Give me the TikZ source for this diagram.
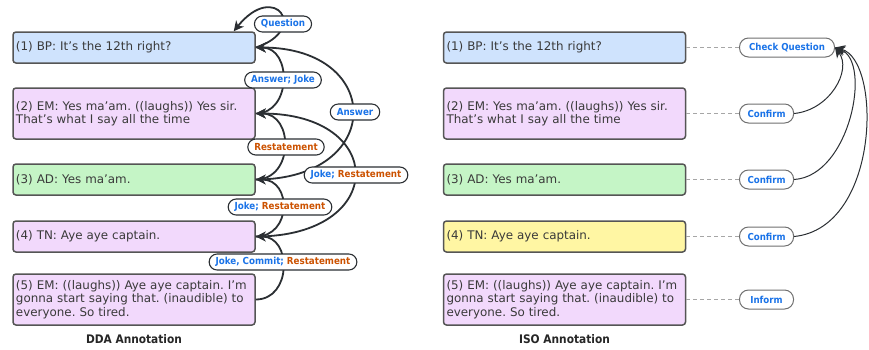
\documentclass[tikz,border=0pt]{standalone}
\usepackage{fontspec}
\setmainfont{DejaVu Sans}
\newfontfamily\labfont{DejaVu Sans Condensed}
\usetikzlibrary{arrows.meta}
\definecolor{bblue}{HTML}{CFE3FD}
\definecolor{bpink}{HTML}{F2D9FC}
\definecolor{bgreen}{HTML}{C5F5C6}
\definecolor{byellow}{HTML}{FFF6A3}
\definecolor{lblue}{HTML}{1A73E8}
\definecolor{lorange}{HTML}{CC5200}
\definecolor{edgec}{HTML}{2B2F33}
\definecolor{boxline}{HTML}{555555}
\definecolor{txt}{HTML}{3A3A3A}
\definecolor{pillgray}{HTML}{707070}
\begin{document}
\frenchspacing
\begin{tikzpicture}[x=1pt,y=-1pt,
  utt/.style={draw=boxline, line width=1.5pt, rounded corners=3pt, minimum width=242pt,
    text width=236pt, inner xsep=3pt, inner ysep=0pt, align=left, text=txt,
    font=\fontsize{11.9}{13.5}\selectfont},
  lab/.style={draw=edgec, line width=1.1pt, fill=white, rounded corners=8pt,
    minimum height=16pt, inner xsep=6.5pt, inner ysep=0pt,
    font=\labfont\fontsize{9.7}{10}\selectfont\bfseries, text=lblue},
  isolab/.style={draw=pillgray, line width=1pt, fill=white, rounded corners=9pt,
    minimum height=19pt, minimum width=54pt, inner xsep=8pt, inner ysep=0pt, anchor=west,
    font=\labfont\fontsize{9.6}{10}\selectfont\bfseries, text=lblue},
  rel/.style={draw=edgec, line width=1.8pt, -{Stealth[length=10pt,width=10pt,inset=3pt]}},
  isorel/.style={draw=edgec, line width=1pt, -{Stealth[length=10pt,width=10pt,inset=3pt]}},
  dashlink/.style={draw=black!35, line width=1pt, dash pattern=on 4pt off 3pt},
  ttl/.style={font=\labfont\fontsize{11.8}{12}\selectfont\bfseries, text=black!85}]
\useasboundingbox[fill=white] (0,0) rectangle (869,349);

% ---------- DDA side ----------
\node[utt, fill=bblue,  minimum height=31pt] (b1) at (134,47.5) {(1) BP: It’s the 12th right?};
\node[utt, fill=bpink,  minimum height=51pt] (b2) at (134,113.5) {(2) EM: Yes ma’am. ((laughs)) Yes sir.\\That’s what I say all the time};
\node[utt, fill=bgreen, minimum height=31pt] (b3) at (134,179.5) {(3) AD: Yes ma’am.};
\node[utt, fill=bpink,  minimum height=31pt] (b4) at (134,236.5) {(4) TN: Aye aye captain.};
\node[utt, fill=bpink,  minimum height=51pt] (b5) at (134,299.5) {(5) EM: ((laughs)) Aye aye captain. I’m\\gonna start saying that. (inaudible) to\\everyone. So tired.};
\node[ttl] (t1) at (134,339) {DDA Annotation};

\draw[rel] (b1.east) .. controls (310,30) and (275,-20) .. ([xshift=-22pt]b1.north east);
\draw[rel] (b2.east) .. controls (292,113.5) and (292,47.5) .. (b1.east);
\draw[rel] (b3.east) .. controls (385,179.5) and (385,47.5) .. (b1.east);
\draw[rel] (b3.east) .. controls (294,179.5) and (294,113.5) .. (b2.east);
\draw[rel] (b4.east) .. controls (388,236.5) and (388,113.5) .. (b2.east);
\draw[rel] (b4.east) .. controls (292,236.5) and (292,179.5) .. (b3.east);
\draw[rel] (b5.east) .. controls (292,299.5) and (292,236.5) .. (b4.east);

\node[lab] (q)  at (283,24)  {Question};
\node[lab] (aj) at (283,80)  {Answer; Joke};
\node[lab] (rs) at (286,147) {\textcolor{lorange}{Restatement}};
\node[lab] (an) at (355,112) {Answer};
\node[lab] (jr1) at (356,175) {Joke; \textcolor{lorange}{Restatement}};
\node[lab] (jr2) at (280,207) {Joke; \textcolor{lorange}{Restatement}};
\node[lab] (jcr) at (283,262) {Joke, Commit; \textcolor{lorange}{Restatement}};

% ---------- ISO side ----------
\node[utt, fill=bblue,   minimum height=31pt] (r1) at (564.5,47.5) {(1) BP: It’s the 12th right?};
\node[utt, fill=bpink,   minimum height=51pt] (r2) at (564.5,113.5) {(2) EM: Yes ma’am. ((laughs)) Yes sir.\\That’s what I say all the time};
\node[utt, fill=bgreen,  minimum height=31pt] (r3) at (564.5,179.5) {(3) AD: Yes ma’am.};
\node[utt, fill=byellow, minimum height=31pt] (r4) at (564.5,236.5) {(4) TN: Aye aye captain.};
\node[utt, fill=bpink,   minimum height=51pt] (r5) at (564.5,299.5) {(5) EM: ((laughs)) Aye aye captain. I’m\\gonna start saying that. (inaudible) to\\everyone. So tired.};
\node[ttl] (t2) at (564.5,339) {ISO Annotation};

\node[isolab, minimum width=95pt] (cq) at (739,47.5) {Check Question};
\node[isolab] (c2) at (739,113.5) {Confirm};
\node[isolab] (c3) at (739,179.5) {Confirm};
\node[isolab] (c4) at (739,236.5) {Confirm};
\node[isolab] (in) at (739,299.5) {Inform};

\draw[dashlink] (r1.east) -- (cq.west);
\draw[dashlink] (r2.east) -- (c2.west);
\draw[dashlink] (r3.east) -- (c3.west);
\draw[dashlink] (r4.east) -- (c4.west);
\draw[dashlink] (r5.east) -- (in.west);

\draw[isorel] (c2.east) .. controls (830,110) and (852,70) .. (cq.east);
\draw[isorel] (c3.east) .. controls (850,176) and (872,62) .. (cq.east);
\draw[isorel] (c4.east) .. controls (880,228) and (882,60) .. (cq.east);
\end{tikzpicture}
\end{document}
